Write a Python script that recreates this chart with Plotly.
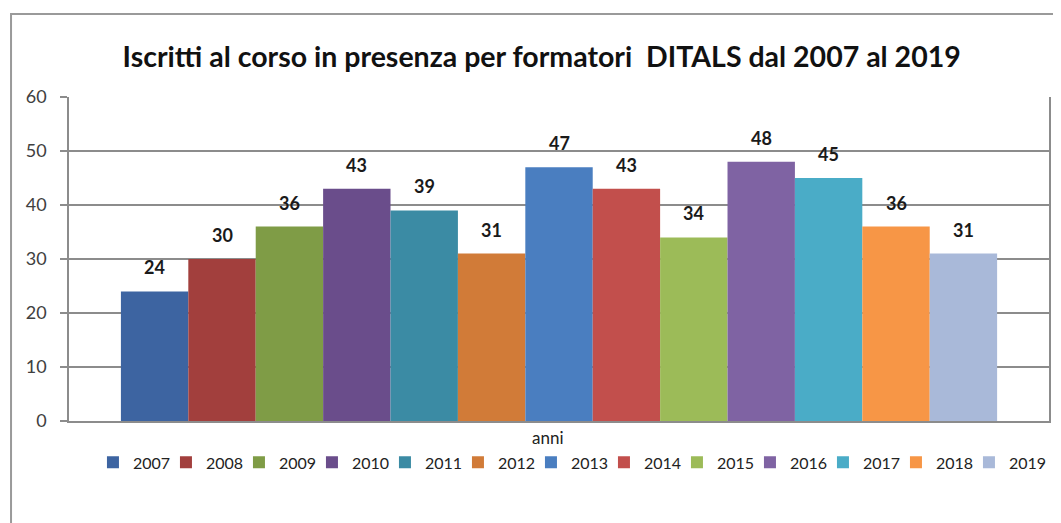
import plotly.graph_objects as go

# dati
anni = ['2007', '2008', '2009', '2010', '2011', '2012', '2013',
        '2014', '2015', '2016', '2017', '2018', '2019']
iscritti = [24, 30, 36, 43, 39, 31, 47, 43, 34, 48, 45, 36, 31]
colori = ['#3D64A1', '#A23F3D', '#7F9C46', '#6A4D8B', '#3B8BA4', '#D17B38', '#4A7EC0',
          '#C24F4C', '#9CBB58', '#7F63A3', '#4AACC7', '#F79646', '#A9B9D9']
y_ticks = [0, 10, 20, 30, 40, 50, 60]

FONT = 'Lato'
GRIGIO = '#8C8C8C'

fig = go.Figure()

# una traccia per anno, cosi' la legenda ha una voce per ciascuno
for i, (anno, val, col) in enumerate(zip(anni, iscritti, colori)):
    fig.add_trace(go.Bar(
        x=[anno], y=[val], name=anno,
        marker=dict(color=col, line=dict(width=0)),
        width=1,
    ))
    # etichetta sopra la barra (x = indice della categoria)
    fig.add_annotation(
        x=i, y=val, text=f'<b>{val}</b>',
        showarrow=False, yanchor='bottom', yshift=11,
        font=dict(family=FONT, size=18, color='#1a1a1a'),
    )

# voce vuota in fondo alla legenda: evita che "2019" venga tagliato
fig.add_trace(go.Bar(
    x=[anni[0]], y=[None], name=' ', hoverinfo='skip',
    marker=dict(color='rgba(0,0,0,0)', line=dict(width=0)),
))

# la pagina html ha 8px di margine sul body -> compenso nei margini.
# margini stretti + domain dell'asse x: cosi' la legenda ha spazio per stare su una riga
fig.update_layout(
    width=1061, height=523,
    barmode='overlay',
    paper_bgcolor='white', plot_bgcolor='white',
    margin=dict(l=20, r=0, t=89, b=110, autoexpand=False),
    title=dict(
        text='<b>Iscritti al corso in presenza per formatori \u00a0DITALS dal 2007 al 2019</b>',
        x=0.503, xanchor='center', y=0.906, yanchor='middle',
        font=dict(family=FONT, size=28.5, color='#111111'),
    ),
    font=dict(family=FONT, size=16, color='#404040'),
    showlegend=True,
    legend=dict(
        orientation='h', x=0.0624, xanchor='left',
        y=-0.128, yanchor='middle',
        font=dict(family=FONT, size=16, color='#222222'),
        traceorder='normal', itemwidth=30,
        entrywidth=28, entrywidthmode='pixels',
    ),
    xaxis=dict(
        domain=[0.0394, 0.9808],
        type='category', categoryorder='array', categoryarray=anni,
        range=[-1.27, len(anni) - 1 + 1.27],
        showticklabels=False, ticks='',
        showline=True, linecolor=GRIGIO, linewidth=1.5, mirror=False,
        showgrid=False, zeroline=False,
    ),
    yaxis=dict(
        range=[0, 60], tickvals=y_ticks,
        showline=True, linecolor=GRIGIO, linewidth=1.5, mirror=True,
        ticks='outside', ticklen=7, tickcolor=GRIGIO, tickwidth=1.5,
        ticklabelstandoff=10,
        showgrid=True, gridcolor=GRIGIO, gridwidth=1.5,
        zeroline=False,
        tickfont=dict(family=FONT, size=18, color='#404040'),
    ),
)

# titolo dell'asse x
fig.add_annotation(
    xref='paper', yref='paper', x=0.4995, y=-0.05,
    text='anni', showarrow=False, yanchor='middle',
    font=dict(family=FONT, size=17, color='#222222'),
)

# bordo del grafico (come in Excel)
fig.add_shape(
    type='rect', xref='paper', yref='paper',
    x0=-0.0163, x1=1.05, y0=-0.4, y1=1.256,
    line=dict(color='#9A9A9A', width=2), fillcolor='rgba(0,0,0,0)',
    layer='below',
)

fig.write_html('out.html')
